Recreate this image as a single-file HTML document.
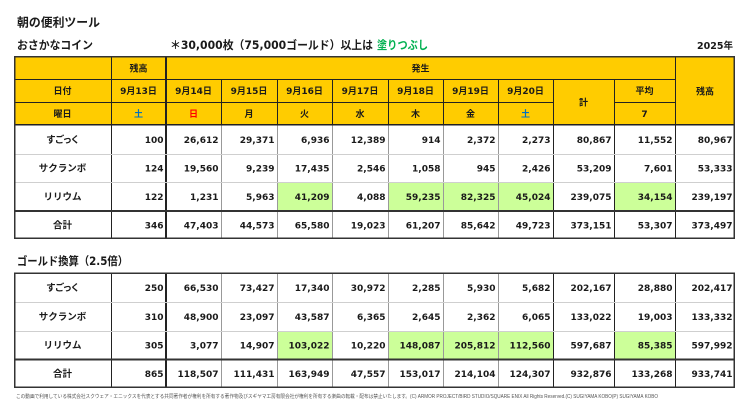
<!DOCTYPE html>
<html><head><meta charset="utf-8">
<style>
html,body{margin:0;padding:0;background:#fff;}
svg{display:block;}
.j{font-family:"Liberation Sans","Noto Sans CJK JP",sans-serif;font-weight:bold;fill:#1a1a1a;}
.h{font-family:"DejaVu Sans","Noto Sans CJK JP",sans-serif;font-weight:bold;font-size:9px;fill:#1a1a1a;text-anchor:middle;}
.n{font-family:"DejaVu Sans",sans-serif;font-weight:bold;font-size:9px;fill:#1a1a1a;text-anchor:end;}
.nm{font-family:"Liberation Sans","Noto Sans CJK JP",sans-serif;font-weight:bold;font-size:9.5px;fill:#1a1a1a;text-anchor:middle;}
</style></head>
<body>
<svg width="750" height="418" viewBox="0 0 750 418" xmlns="http://www.w3.org/2000/svg">
<rect width="750" height="418" fill="#fff"/>
<!-- titles -->
<text class="j" x="17" y="26.5" font-size="12" textLength="83" lengthAdjust="spacingAndGlyphs">朝の便利ツール</text>
<text class="j" x="17" y="49" font-size="11.5" textLength="76" lengthAdjust="spacingAndGlyphs">おさかなコイン</text>
<text class="j" x="170" y="49" font-size="11.5" textLength="203" lengthAdjust="spacingAndGlyphs" style="font-family:'DejaVu Sans','Noto Sans CJK JP',sans-serif">＊30,000枚（75,000ゴールド）以上は</text>
<text class="j" x="377" y="49" font-size="11.5" textLength="51" lengthAdjust="spacingAndGlyphs" style="fill:#00b050">塗りつぶし</text>
<text class="j" x="733" y="49" font-size="9.5" text-anchor="end" style="font-family:'DejaVu Sans','Noto Sans CJK JP',sans-serif">2025年</text>

<!-- TABLE 1 -->
<rect x="14" y="57" width="721" height="68" fill="#ffcc00"/>
<!-- green highlights -->
<rect x="277" y="182" width="55" height="29" fill="#ccff99"/>
<rect x="388" y="182" width="165" height="29" fill="#ccff99"/>
<rect x="614" y="182" width="61" height="29" fill="#ccff99"/>
<!-- header lines -->
<g stroke="#222" stroke-width="1" fill="none">
<line x1="14" y1="79.5" x2="675" y2="79.5"/>
<line x1="14" y1="102.5" x2="553" y2="102.5"/>
<line x1="614" y1="102.5" x2="675" y2="102.5"/>
<line x1="221.5" y1="79" x2="221.5" y2="125"/>
<line x1="277.5" y1="79" x2="277.5" y2="125"/>
<line x1="332.5" y1="79" x2="332.5" y2="125"/>
<line x1="388.5" y1="79" x2="388.5" y2="125"/>
<line x1="443.5" y1="79" x2="443.5" y2="125"/>
<line x1="498.5" y1="79" x2="498.5" y2="125"/>
<line x1="553.5" y1="79" x2="553.5" y2="239"/>
<line x1="614.5" y1="79" x2="614.5" y2="239"/>
<line x1="675.5" y1="57" x2="675.5" y2="239"/>
<line x1="111.5" y1="57" x2="111.5" y2="239"/>
</g>
<rect x="165" y="57" width="2" height="182" fill="#222"/>
<g stroke="#999" stroke-width="1">
<line x1="221.5" y1="125" x2="221.5" y2="239"/>
<line x1="277.5" y1="125" x2="277.5" y2="239"/>
<line x1="332.5" y1="125" x2="332.5" y2="239"/>
<line x1="388.5" y1="125" x2="388.5" y2="239"/>
<line x1="443.5" y1="125" x2="443.5" y2="239"/>
<line x1="498.5" y1="125" x2="498.5" y2="239"/>
</g>
<g stroke="#cfcfcf" stroke-width="1">
<line x1="14" y1="154.5" x2="735" y2="154.5"/>
<line x1="14" y1="182.5" x2="735" y2="182.5"/>
</g>
<rect x="14" y="210" width="721" height="2" fill="#333"/>
<rect x="14" y="124" width="721" height="1.5" fill="#222"/>
<rect x="14.75" y="56.75" width="719.5" height="181.5" fill="none" stroke="#333" stroke-width="1.5"/>

<!-- header text -->
<text class="h" x="138.5" y="71.3">残高</text>
<text class="h" x="420.5" y="71.3">発生</text>
<text class="h" x="705" y="94.3">残高</text>
<text class="h" x="62.5" y="94">日付</text>
<text class="h" x="138.5" y="94">9月13日</text>
<text class="h" x="193.5" y="94">9月14日</text>
<text class="h" x="249" y="94">9月15日</text>
<text class="h" x="304.5" y="94">9月16日</text>
<text class="h" x="360" y="94">9月17日</text>
<text class="h" x="415.5" y="94">9月18日</text>
<text class="h" x="470.5" y="94">9月19日</text>
<text class="h" x="525.5" y="94">9月20日</text>
<text class="h" x="583.5" y="105.3">計</text>
<text class="h" x="644.5" y="94">平均</text>
<text class="h" x="62.5" y="116.8">曜日</text>
<text class="h" x="138.5" y="116.8" style="fill:#0070c0">土</text>
<text class="h" x="193.5" y="116.8" style="fill:#ff0000">日</text>
<text class="h" x="249" y="116.8">月</text>
<text class="h" x="304.5" y="116.8">火</text>
<text class="h" x="360" y="116.8">水</text>
<text class="h" x="415.5" y="116.8">木</text>
<text class="h" x="470.5" y="116.8">金</text>
<text class="h" x="525.5" y="116.8" style="fill:#0070c0">土</text>
<text class="h" x="644.5" y="116.8">7</text>

<!-- body table 1 -->
<text class="nm" x="62.5" y="142.8" style="font-feature-settings:'palt'">すごっく</text>
<text class="nm" x="62.5" y="171.3">サクランボ</text>
<text class="nm" x="62.5" y="199.8">リリウム</text>
<text class="nm" x="62.5" y="228.3">合計</text>

<g class="n">
<text class="n" x="163.5" y="142.8">100</text>
<text class="n" x="218.5" y="142.8">26,612</text>
<text class="n" x="274.5" y="142.8">29,371</text>
<text class="n" x="329.5" y="142.8">6,936</text>
<text class="n" x="385.5" y="142.8">12,389</text>
<text class="n" x="440.5" y="142.8">914</text>
<text class="n" x="495.5" y="142.8">2,372</text>
<text class="n" x="550.5" y="142.8">2,273</text>
<text class="n" x="611.5" y="142.8">80,867</text>
<text class="n" x="672.5" y="142.8">11,552</text>
<text class="n" x="732.5" y="142.8">80,967</text>

<text class="n" x="163.5" y="171.3">124</text>
<text class="n" x="218.5" y="171.3">19,560</text>
<text class="n" x="274.5" y="171.3">9,239</text>
<text class="n" x="329.5" y="171.3">17,435</text>
<text class="n" x="385.5" y="171.3">2,546</text>
<text class="n" x="440.5" y="171.3">1,058</text>
<text class="n" x="495.5" y="171.3">945</text>
<text class="n" x="550.5" y="171.3">2,426</text>
<text class="n" x="611.5" y="171.3">53,209</text>
<text class="n" x="672.5" y="171.3">7,601</text>
<text class="n" x="732.5" y="171.3">53,333</text>

<text class="n" x="163.5" y="199.8">122</text>
<text class="n" x="218.5" y="199.8">1,231</text>
<text class="n" x="274.5" y="199.8">5,963</text>
<text class="n" x="329.5" y="199.8">41,209</text>
<text class="n" x="385.5" y="199.8">4,088</text>
<text class="n" x="440.5" y="199.8">59,235</text>
<text class="n" x="495.5" y="199.8">82,325</text>
<text class="n" x="550.5" y="199.8">45,024</text>
<text class="n" x="611.5" y="199.8">239,075</text>
<text class="n" x="672.5" y="199.8">34,154</text>
<text class="n" x="732.5" y="199.8">239,197</text>

<text class="n" x="163.5" y="228.3">346</text>
<text class="n" x="218.5" y="228.3">47,403</text>
<text class="n" x="274.5" y="228.3">44,573</text>
<text class="n" x="329.5" y="228.3">65,580</text>
<text class="n" x="385.5" y="228.3">19,023</text>
<text class="n" x="440.5" y="228.3">61,207</text>
<text class="n" x="495.5" y="228.3">85,642</text>
<text class="n" x="550.5" y="228.3">49,723</text>
<text class="n" x="611.5" y="228.3">373,151</text>
<text class="n" x="672.5" y="228.3">53,307</text>
<text class="n" x="732.5" y="228.3">373,497</text>
</g>

<!-- TABLE 2 -->
<text class="j" x="17" y="265" font-size="11.5" textLength="111" lengthAdjust="spacingAndGlyphs" style="font-family:'DejaVu Sans','Noto Sans CJK JP',sans-serif">ゴールド換算（2.5倍）</text>

<rect x="277" y="331" width="55" height="28" fill="#ccff99"/>
<rect x="388" y="331" width="165" height="28" fill="#ccff99"/>
<rect x="614" y="331" width="61" height="28" fill="#ccff99"/>

<g stroke="#222" stroke-width="1">
<line x1="111.5" y1="273" x2="111.5" y2="388"/>
<line x1="553.5" y1="273" x2="553.5" y2="388"/>
<line x1="614.5" y1="273" x2="614.5" y2="388"/>
<line x1="675.5" y1="273" x2="675.5" y2="388"/>
</g>
<rect x="165" y="273" width="2" height="115" fill="#222"/>
<g stroke="#999" stroke-width="1">
<line x1="221.5" y1="273" x2="221.5" y2="388"/>
<line x1="277.5" y1="273" x2="277.5" y2="388"/>
<line x1="332.5" y1="273" x2="332.5" y2="388"/>
<line x1="388.5" y1="273" x2="388.5" y2="388"/>
<line x1="443.5" y1="273" x2="443.5" y2="388"/>
<line x1="498.5" y1="273" x2="498.5" y2="388"/>
</g>
<g stroke="#cfcfcf" stroke-width="1">
<line x1="14" y1="302.5" x2="735" y2="302.5"/>
<line x1="14" y1="331.5" x2="735" y2="331.5"/>
</g>
<rect x="14" y="358.5" width="721" height="2" fill="#333"/>
<rect x="14.75" y="273.25" width="719.5" height="114" fill="none" stroke="#333" stroke-width="1.5"/>

<text class="nm" x="62.5" y="290.8" style="font-feature-settings:'palt'">すごっく</text>
<text class="nm" x="62.5" y="319.8">サクランボ</text>
<text class="nm" x="62.5" y="348.3">リリウム</text>
<text class="nm" x="62.5" y="376.8">合計</text>

<g>
<text class="n" x="163.5" y="290.8">250</text>
<text class="n" x="218.5" y="290.8">66,530</text>
<text class="n" x="274.5" y="290.8">73,427</text>
<text class="n" x="329.5" y="290.8">17,340</text>
<text class="n" x="385.5" y="290.8">30,972</text>
<text class="n" x="440.5" y="290.8">2,285</text>
<text class="n" x="495.5" y="290.8">5,930</text>
<text class="n" x="550.5" y="290.8">5,682</text>
<text class="n" x="611.5" y="290.8">202,167</text>
<text class="n" x="672.5" y="290.8">28,880</text>
<text class="n" x="732.5" y="290.8">202,417</text>

<text class="n" x="163.5" y="319.8">310</text>
<text class="n" x="218.5" y="319.8">48,900</text>
<text class="n" x="274.5" y="319.8">23,097</text>
<text class="n" x="329.5" y="319.8">43,587</text>
<text class="n" x="385.5" y="319.8">6,365</text>
<text class="n" x="440.5" y="319.8">2,645</text>
<text class="n" x="495.5" y="319.8">2,362</text>
<text class="n" x="550.5" y="319.8">6,065</text>
<text class="n" x="611.5" y="319.8">133,022</text>
<text class="n" x="672.5" y="319.8">19,003</text>
<text class="n" x="732.5" y="319.8">133,332</text>

<text class="n" x="163.5" y="348.3">305</text>
<text class="n" x="218.5" y="348.3">3,077</text>
<text class="n" x="274.5" y="348.3">14,907</text>
<text class="n" x="329.5" y="348.3">103,022</text>
<text class="n" x="385.5" y="348.3">10,220</text>
<text class="n" x="440.5" y="348.3">148,087</text>
<text class="n" x="495.5" y="348.3">205,812</text>
<text class="n" x="550.5" y="348.3">112,560</text>
<text class="n" x="611.5" y="348.3">597,687</text>
<text class="n" x="672.5" y="348.3">85,385</text>
<text class="n" x="732.5" y="348.3">597,992</text>

<text class="n" x="163.5" y="376.8">865</text>
<text class="n" x="218.5" y="376.8">118,507</text>
<text class="n" x="274.5" y="376.8">111,431</text>
<text class="n" x="329.5" y="376.8">163,949</text>
<text class="n" x="385.5" y="376.8">47,557</text>
<text class="n" x="440.5" y="376.8">153,017</text>
<text class="n" x="495.5" y="376.8">214,104</text>
<text class="n" x="550.5" y="376.8">124,307</text>
<text class="n" x="611.5" y="376.8">932,876</text>
<text class="n" x="672.5" y="376.8">133,268</text>
<text class="n" x="732.5" y="376.8">933,741</text>
</g>

<!-- footer -->
<text x="16" y="398" font-size="5" textLength="642" lengthAdjust="spacingAndGlyphs" style="font-family:'Liberation Sans','Noto Sans CJK JP',sans-serif;fill:#555">この動画で利用している株式会社スクウェア・エニックスを代表とする共同著作者が権利を所有する著作物及びスギヤマ工房有限会社が権利を所有する楽曲の転載・配布は禁止いたします。(C) ARMOR PROJECT/BIRD STUDIO/SQUARE ENIX All Rights Reserved.(C) SUGIYAMA KOBO(P) SUGIYAMA KOBO</text>
</svg>
</body></html>
